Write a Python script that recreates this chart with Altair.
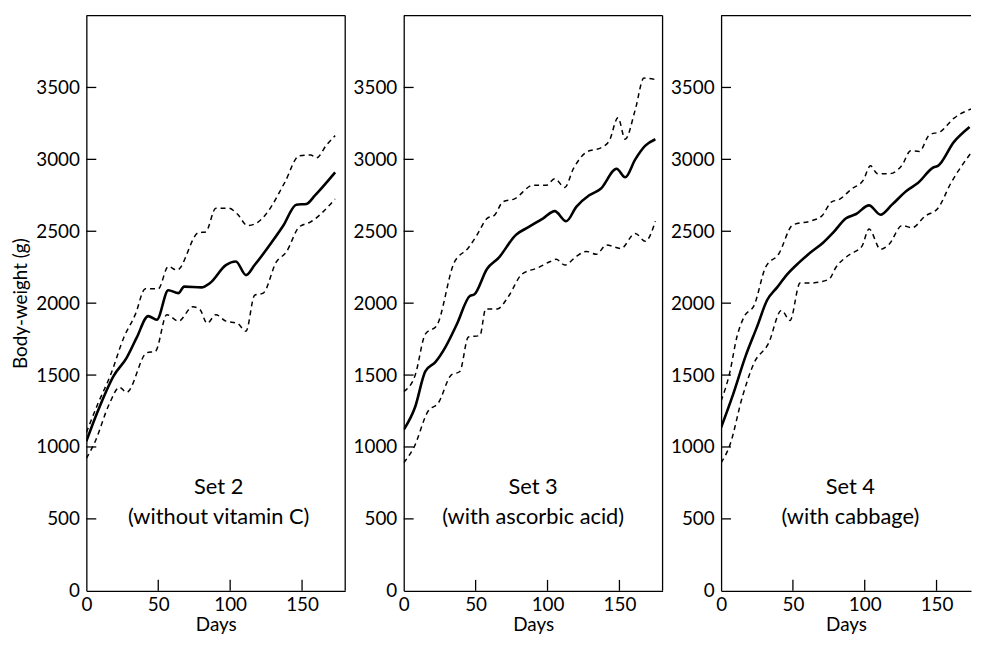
import altair as alt
import pandas as pd

# ---------------- data ----------------
# Set 2 (without vitamin C)
s2_mean_days = [0, 8, 19, 28, 35, 43, 49, 57, 64, 68, 80, 86, 97, 104, 111, 117, 129, 137, 146, 153, 159, 173]
s2_mean = [1040, 1250, 1495, 1620, 1760, 1910, 1885, 2090, 2070, 2115, 2110, 2140, 2265, 2290, 2195, 2265, 2425, 2540, 2685, 2690, 2750, 2910]
s2_upper_days = [0, 8, 17, 26, 34, 41, 50, 57, 63, 78, 83, 90, 99, 105, 112, 117, 125, 138, 148, 156, 160, 167, 173]
s2_upper = [1100, 1300, 1505, 1760, 1920, 2100, 2100, 2255, 2230, 2490, 2495, 2660, 2660, 2620, 2540, 2550, 2620, 2840, 3025, 3030, 3010, 3100, 3165]
s2_lower_days = [0, 6, 16, 23, 28, 42, 48, 56, 64, 74, 79, 84, 90, 97, 105, 111, 117, 123, 132, 139, 148, 156, 173]
s2_lower = [920, 1035, 1300, 1415, 1380, 1655, 1665, 1920, 1875, 1975, 1955, 1860, 1920, 1875, 1860, 1805, 2055, 2070, 2285, 2355, 2530, 2565, 2725]

# Set 3 (with ascorbic acid)
s3_mean_days = [0, 8, 15, 22, 29, 37, 46, 49, 58, 66, 78, 87, 97, 105, 113, 120, 129, 137, 148, 154, 161, 168, 175]
s3_mean = [1120, 1280, 1525, 1590, 1695, 1855, 2050, 2060, 2240, 2315, 2475, 2530, 2590, 2640, 2570, 2670, 2750, 2795, 2935, 2875, 3000, 3095, 3140]
s3_upper_days = [0, 8, 15, 23, 35, 45, 51, 58, 63, 69, 77, 90, 99, 105, 112, 118, 127, 138, 143, 149, 154, 161, 167, 175]
s3_upper = [1385, 1500, 1785, 1845, 2280, 2385, 2475, 2590, 2610, 2705, 2725, 2820, 2820, 2865, 2805, 2935, 3050, 3085, 3130, 3290, 3140, 3345, 3565, 3555]
s3_lower_days = [0, 7, 17, 24, 33, 39, 45, 53, 57, 65, 73, 82, 93, 102, 106, 112, 120, 127, 134, 141, 151, 161, 168, 175]
s3_lower = [890, 995, 1250, 1305, 1500, 1525, 1765, 1775, 1960, 1960, 2050, 2200, 2245, 2290, 2305, 2265, 2325, 2360, 2340, 2405, 2380, 2485, 2430, 2570]

# Set 4 (with cabbage)
s4_mean_days = [0, 8, 17, 25, 32, 39, 46, 54, 62, 71, 78, 87, 94, 103, 111, 119, 129, 137, 148, 151, 162, 173]
s4_mean = [1135, 1355, 1630, 1835, 2020, 2110, 2200, 2280, 2350, 2420, 2490, 2590, 2620, 2680, 2615, 2685, 2780, 2835, 2945, 2955, 3120, 3225]
s4_upper_days = [0, 6, 11, 16, 23, 31, 40, 50, 62, 70, 77, 82, 91, 99, 104, 109, 117, 126, 132, 138, 145, 153, 162, 174]
s4_upper = [1320, 1515, 1765, 1905, 1985, 2250, 2340, 2545, 2570, 2605, 2705, 2720, 2795, 2855, 2955, 2900, 2900, 2960, 3060, 3055, 3170, 3195, 3285, 3350]
s4_lower_days = [0, 6, 15, 23, 33, 42, 48, 55, 62, 75, 80, 89, 98, 103, 111, 117, 126, 133, 142, 151, 160, 174]
s4_lower = [890, 1010, 1355, 1585, 1720, 1950, 1880, 2140, 2140, 2165, 2250, 2335, 2395, 2515, 2375, 2410, 2540, 2525, 2605, 2660, 2835, 3045]

set_titles = ["Set 2", "Set 3", "Set 4"]
set_subtitles = ["(without vitamin C)", "(with ascorbic acid)", "(with cabbage)"]
label_days = [92, 90, 90]

y_tick_values = [0, 500, 1000, 1500, 2000, 2500, 3000, 3500]
x_tick_values = [0, 50, 100, 150]

# ---------------- layout / style ----------------
FONT = "Lato"
PX_PER_DAY = 261 / 180
H = 580
Y_MAX = 4000


def series_frame(days, vals, name):
    return pd.DataFrame({"day": days, "weight": vals, "series": name})


def panel(mean_d, mean_v, up_d, up_v, lo_d, lo_v, title, subtitle, label_day, x_max,
          show_ytitle, right_border):
    width = round(x_max * PX_PER_DAY)
    mean_df = series_frame(mean_d, mean_v, "mean")
    band_df = pd.concat([series_frame(up_d, up_v, "upper"), series_frame(lo_d, lo_v, "lower")])

    xs = alt.Scale(domain=[0, x_max], nice=False, zero=False)
    ys = alt.Scale(domain=[0, Y_MAX], nice=False)

    x_axis = alt.Axis(values=x_tick_values, format="d", title="Days", ticks=False, tickSize=0,
                      grid=False, labelPadding=5, titlePadding=1, domainColor="black",
                      domainWidth=1.3, labelFlush=False)
    y_axis = alt.Axis(values=y_tick_values, format="d",
                      title="Body-weight (g)" if show_ytitle else None,
                      ticks=False, tickSize=0, grid=False, labelPadding=7, titlePadding=5,
                      domainColor="black", domainWidth=1.3, labelFlush=False)

    mean_line = alt.Chart(mean_df).mark_line(
        color="black", strokeWidth=2.6, interpolate="monotone", clip=True
    ).encode(
        x=alt.X("day:Q", scale=xs, axis=x_axis),
        y=alt.Y("weight:Q", scale=ys, axis=y_axis),
    )
    band_lines = alt.Chart(band_df).mark_line(
        color="black", strokeWidth=1.5, strokeDash=[5, 4], interpolate="monotone", clip=True
    ).encode(
        x=alt.X("day:Q", scale=xs),
        y=alt.Y("weight:Q", scale=ys),
        detail="series:N",
    )
    ytick_df = pd.DataFrame({"v": y_tick_values[1:]})
    y_ticks = alt.Chart(ytick_df).mark_rule(color="black", strokeWidth=1.3).encode(
        y=alt.Y("v:Q", scale=ys), x=alt.value(0), x2=alt.value(10)
    )
    xtick_df = pd.DataFrame({"v": x_tick_values[1:]})
    x_ticks = alt.Chart(xtick_df).mark_rule(color="black", strokeWidth=1.3).encode(
        x=alt.X("v:Q", scale=xs), y=alt.value(H), y2=alt.value(H - 11)
    )
    one = pd.DataFrame({"a": [0]})
    top_border = alt.Chart(one).mark_rule(color="black", strokeWidth=1.3).encode(
        x=alt.value(0), x2=alt.value(width), y=alt.value(0)
    )
    layers = [band_lines, mean_line, y_ticks, x_ticks, top_border]
    if right_border:
        layers.append(alt.Chart(one).mark_rule(color="black", strokeWidth=1.3).encode(
            x=alt.value(width), y=alt.value(0), y2=alt.value(H)
        ))
    label_df = pd.DataFrame({"t": [title, subtitle], "d": [label_day, label_day], "w": [724, 510]})
    labels = alt.Chart(label_df).mark_text(
        font=FONT, fontSize=22, color="black", baseline="middle", align="center"
    ).encode(x=alt.X("d:Q", scale=xs), y=alt.Y("w:Q", scale=ys), text="t:N")
    layers.append(labels)
    return alt.layer(*layers).properties(width=width, height=H)


p1 = panel(s2_mean_days, s2_mean, s2_upper_days, s2_upper, s2_lower_days, s2_lower,
           set_titles[0], set_subtitles[0], label_days[0], 180, True, True)
p2 = panel(s3_mean_days, s3_mean, s3_upper_days, s3_upper, s3_lower_days, s3_lower,
           set_titles[1], set_subtitles[1], label_days[1], 180, False, True)
p3 = panel(s4_mean_days, s4_mean, s4_upper_days, s4_upper, s4_lower_days, s4_lower,
           set_titles[2], set_subtitles[2], label_days[2], 174, False, False)

chart = alt.hconcat(p1, p2, p3, spacing=59, bounds="flush").properties(
    padding={"left": 3, "top": 3, "right": 0, "bottom": 0},
    background="white",
).configure_view(
    stroke="transparent"
).configure_axis(
    labelFont=FONT, labelFontSize=19, labelColor="black",
    titleFont=FONT, titleFontSize=19, titleFontWeight="normal", titleColor="black",
)

chart.save("out.html", embed_options={"renderer": "svg", "actions": False})
